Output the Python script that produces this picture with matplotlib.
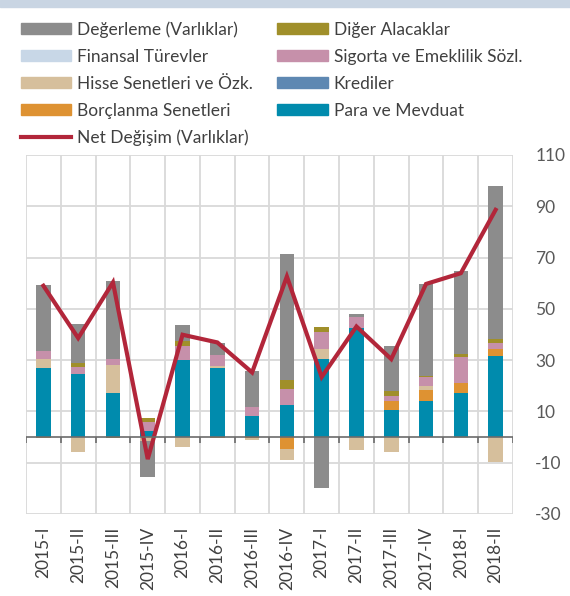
import matplotlib.pyplot as plt
import matplotlib.patches as mpatches
from matplotlib.lines import Line2D
import numpy as np

plt.rcParams['font.family'] = ['Lato', 'DejaVu Sans']
plt.rcParams['axes.unicode_minus'] = False

donemler = ['2015-I', '2015-II', '2015-III', '2015-IV', '2016-I', '2016-II', '2016-III',
            '2016-IV', '2017-I', '2017-II', '2017-III', '2017-IV', '2018-I', '2018-II']

# bilesenler (milyar TL)
para_mevduat = [27.1, 24.7, 17.2, 2.2, 30.2, 27.1, 8.4, 12.6, 30.4, 42.5, 10.6, 14.2, 17.2, 31.8]
krediler = [0, 0, 0, 0, 0, 0, 0, 0, 0, 0, 0, 0, 0, 0]
borclanma = [-0.5, 0, 0, 0, 0, -0.5, -0.3, -4.6, 0, 0, 3.3, 4.0, 3.9, 2.6]
hisse = [3.3, -5.7, 11.0, -1.5, -4.0, 0.6, -0.8, -4.5, 4.0, -5.2, -5.7, 1.8, -0.5, -9.9]
finansal = [0, 0, 0, 0, 0, 0, 0, 0, 0, 0, 0, 0, 0, 0]
sigorta = [3.3, 2.8, 2.2, 3.5, 5.4, 4.4, 3.5, 6.2, 6.5, 4.5, 2.0, 3.3, 10.3, 2.2]
diger = [0, 1.2, -0.3, 1.7, 1.7, 0, 0, 3.5, 2.2, 0, 2.1, 0.6, 1.1, 1.8]
degerleme = [25.7, 15.4, 30.6, -14.0, 6.5, 4.6, 14.0, 49.2, -19.9, 1.0, 17.4, 35.8, 32.1, 59.5]
net_degisim = [59.0, 38.6, 60.3, -8.6, 39.9, 36.9, 25.2, 62.6, 23.4, 43.1, 30.4, 59.7, 63.9, 88.6]

seriler = [
    ('Para ve Mevduat', para_mevduat, '#008bad'),
    ('Krediler', krediler, '#5e88b2'),
    ('Borçlanma Senetleri', borclanma, '#de9232'),
    ('Hisse Senetleri ve Özk.', hisse, '#d6bf9c'),
    ('Finansal Türevler', finansal, '#c8d7e7'),
    ('Sigorta ve Emeklilik Sözl.', sigorta, '#c690aa'),
    ('Diğer Alacaklar', diger, '#a08f2a'),
    ('Değerleme (Varlıklar)', degerleme, '#8c8c8c'),
]

fig = plt.figure(figsize=(5.7, 5.96), dpi=100)
fig.patches.append(mpatches.Rectangle((0, 0.988), 1, 0.012, transform=fig.transFigure,
                                      color='#c9d5e3', zorder=0))
ax = fig.add_axes([0.0456, 0.1376, 0.9544 - 0.0456 - 0.0544, 0.74 - 0.1376])

x = np.arange(len(donemler))
pos = np.zeros(len(x))
neg = np.zeros(len(x))
kutular = {}
for ad, deger, renk in seriler:
    d = np.array(deger, dtype=float)
    alt = np.where(d >= 0, pos, neg)
    ax.bar(x, d, 0.42, bottom=alt, color=renk, zorder=3, linewidth=0)
    pos = pos + np.clip(d, 0, None)
    neg = neg + np.clip(d, None, 0)
    kutular[ad] = mpatches.Patch(color=renk)

ax.plot(x, net_degisim, color='#b2263a', lw=3, zorder=4, solid_joinstyle='miter')

ax.set_xlim(-0.5, len(x) - 0.5)
ax.set_ylim(-30, 110)
ax.set_yticks(np.arange(-30, 111, 20))
ax.yaxis.tick_right()
ax.tick_params(axis='y', length=0, pad=16, labelsize=12.5, labelcolor='#595959')
for s in ax.spines.values():
    s.set_visible(False)
ax.grid(axis='y', color='#d9d9d9', lw=1.3, zorder=0)
for b in np.arange(-0.5, len(x), 1):
    ax.axvline(b, color='#d9d9d9', lw=1.3, zorder=0)

# sifir cizgisi ve isaretleri
ax.axhline(0, color='#6b6b6b', lw=1.2, zorder=5)
sinirlar = np.arange(-0.5, len(x), 1)
ax.vlines(sinirlar, -2.2, 0, color='#6b6b6b', lw=1.2, zorder=5)

ax.set_xticks(x)
ax.set_xticklabels(donemler, rotation=90, fontsize=12.5, color='#404040')
ax.tick_params(axis='x', length=0, pad=9)

sira = ['Değerleme (Varlıklar)', 'Finansal Türevler', 'Hisse Senetleri ve Özk.',
        'Borçlanma Senetleri', 'Net Değişim (Varlıklar)', 'Diğer Alacaklar',
        'Sigorta ve Emeklilik Sözl.', 'Krediler', 'Para ve Mevduat']
kutular['Net Değişim (Varlıklar)'] = Line2D([], [], color='#b2263a', lw=3)
fig.legend([kutular[k] for k in sira], sira, ncol=2, loc='upper left',
           bbox_to_anchor=(0.03, 0.97), frameon=False, fontsize=12.5,
           handlelength=2.9, handleheight=0.6, handletextpad=0.35,
           labelspacing=0.63, columnspacing=1.4, labelcolor='#404040',
           borderaxespad=0, borderpad=0.2)

fig.savefig('out.png', dpi=100)
